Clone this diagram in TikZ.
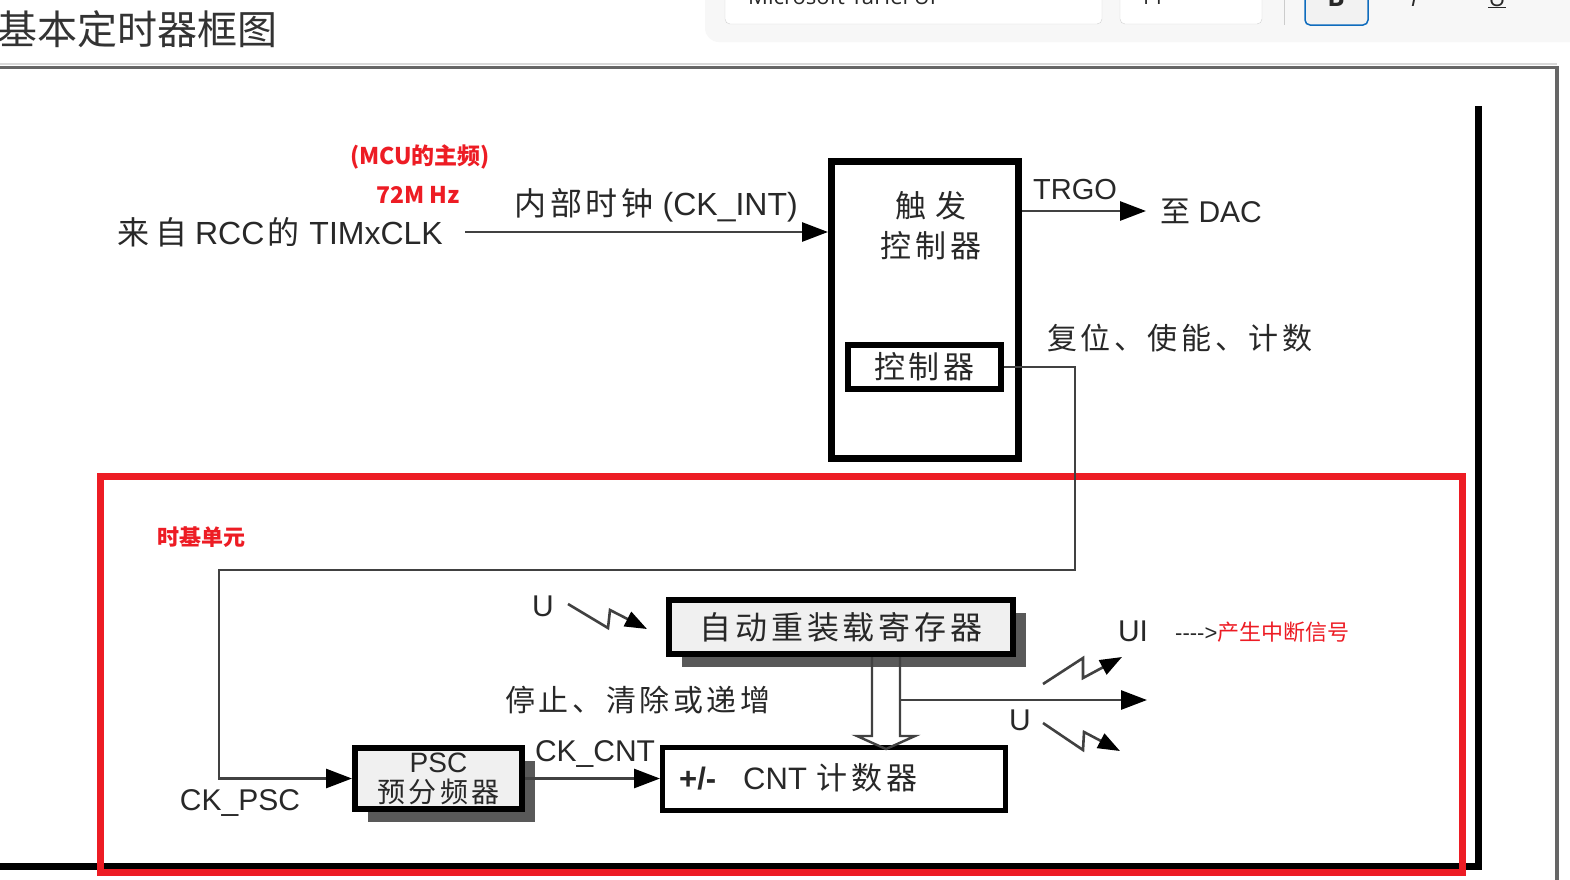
\documentclass[tikz,border=0pt]{standalone}
\usepackage{fontspec}
\setmainfont{Liberation Sans}
\newfontfamily\cjk{Noto Sans CJK SC}
\newfontfamily\cjksp[LetterSpace=12]{Noto Sans CJK SC}
\newfontfamily\uifont{Open Sans}
\usetikzlibrary{arrows.meta,shadows,positioning}
\definecolor{markred}{RGB}{237,28,36}
\definecolor{inkgray}{RGB}{40,40,40}
\definecolor{linegray}{RGB}{65,65,65}
\definecolor{uiblue}{RGB}{15,108,189}
\newcommand{\zh}[1]{{\cjk #1}}
\newcommand{\zhs}[1]{{\cjksp #1}}

\begin{document}
\begin{tikzpicture}[x=1pt,y=-1pt,
	lbl/.style={inner sep=0pt, text=inkgray, font=\fontsize{30}{38}\selectfont},
	redlbl/.style={inner sep=0pt, text=markred, font=\fontsize{22}{26}\selectfont\cjk\bfseries},
	uitxt/.style={inner sep=0pt, text=inkgray, font=\uifont\fontsize{22}{24}\selectfont},
	blockbox/.style={draw=black, line width=6pt, inner sep=0pt, fill=white, text=inkgray},
	regbox/.style={blockbox, fill=black!6, drop shadow={shadow xshift=13pt, shadow yshift=-13pt, fill=black!65, opacity=1}},
	sig/.style={draw=linegray, line width=2.8pt},
	sigarrow/.style={sig, -{Triangle[length=26pt,width=19pt,color=black]}},
	bolt/.style={sig, line width=2.6pt, -{Triangle[length=22pt,width=16pt,color=black]}}]

	\useasboundingbox (0,0) rectangle (1570,879);
	\clip (0,0) rectangle (1570,879);
	\fill[white] (0,0) rectangle (1570,879);

	% editor toolbar and page frame
	\fill[black!3, rounded corners=14pt] (705,-30) rectangle (1600,42);
	\draw[black!18, fill=white, rounded corners=5pt] (725,-20) rectangle (1102,24);
	\draw[black!18, fill=white, rounded corners=5pt] (1120,-20) rectangle (1262,24);
	\draw[black!20, line width=1pt] (1284,-5) -- (1284,25);
	\draw[uiblue, fill=black!5, line width=1.5pt, rounded corners=5pt] (1305,-20) rectangle (1368,25);
	\node[uitxt, anchor=base west] (fontname) at (748,4) {Microsoft YaHei UI};
	\node[uitxt, anchor=base] (fontsize) at (1152,4) {11};
	\node[uitxt, anchor=base, font=\uifont\bfseries\fontsize{26}{28}\selectfont] (boldbtn) at (1336,6) {B};
	\node[uitxt, anchor=base, font=\uifont\itshape\fontsize{24}{26}\selectfont] (italbtn) at (1414,6) {I};
	\node[uitxt, anchor=base, font=\uifont\fontsize{24}{26}\selectfont] (ulbtn) at (1497,6) {\underline{U}};

	\node[anchor=west, inner sep=0pt, font=\fontsize{40}{42}\selectfont\cjk, text=black!80] (title) at (-3,29) {基本定时器框图};

	\draw[black!15, line width=2pt] (0,63.5) -- (1557,63.5);
	\draw[black!60, line width=3.5pt] (0,67.5) -- (1557,67.5) -- (1557,885);
	\draw[black, line width=7pt] (1478,106) -- (1478,866) -- (-5,866);
	\draw[markred, line width=7pt] (100.5,476.5) rectangle (1462,872.5);

	% trigger controller
	\node[redlbl, font=\fontsize{23}{26}\selectfont\cjk\bfseries] (mcu) at (420,157) {(MCU的主频)};
	\node[redlbl, font=\fontsize{23}{26}\selectfont\cjk\bfseries] (freq) at (418,195) {72M Hz};
	\node[lbl, anchor=east, font=\fontsize{32}{38}\selectfont] (clksrc) at (443,232) {\zh{来}\hspace{6pt}\zh{自}\hspace{8pt}RCC\hspace{3pt}\zh{的}\hspace{10pt}TIMxCLK};
	\node[lbl, font=\fontsize{32}{38}\selectfont] (ckint) at (656,205) {\zhs{内部时钟} (CK\_INT)};
	\node[blockbox, line width=7pt, minimum width=187pt, minimum height=297pt] (trig) at (925,310) {};
	\node[lbl, align=center, font=\fontsize{31}{40}\selectfont\cjksp] (trigtxt) at (931,226) {触\hspace{10pt}发\\控制器};
	\node[blockbox, minimum width=153pt, minimum height=44pt, font=\fontsize{31}{36}\selectfont\cjksp] (ctrl) at (924.5,367) {控制器};
	\node[lbl, anchor=west] (dac) at (1160,211) {\zh{至} DAC};
	\node[lbl, font=\fontsize{29}{30}\selectfont] (trgo) at (1075,190) {TRGO};
	\node[lbl, anchor=west] (rst) at (1047,338) {\zhs{复位、使能、计数}};

	\coordinate[right=22pt of clksrc.east] (clkstart);
	\draw[sigarrow] (clkstart) -- (clkstart -| trig.west);
	\draw[sigarrow, shorten >=14pt] (trig.east |- dac.west) -- (dac.west);

	% time base unit
	\node[redlbl, anchor=west] (tbunit) at (157,537) {时基单元};
	\node[regbox, minimum width=344pt, minimum height=54pt, font=\fontsize{32}{34}\selectfont\cjksp] (reload) at (841,627) {自动重装载寄存器};
	\node[regbox, minimum width=167pt, minimum height=61pt, align=center, font=\fontsize{28}{30}\selectfont] (psc) at (438.5,778.5) {PSC\\\zhs{预分频器}};
	\node[blockbox, line width=5pt, minimum width=343pt, minimum height=63pt] (cnt) at (834,779) {};
	\node[lbl, anchor=west, font=\fontsize{31}{36}\selectfont] (cnttxt) at (679,778) {\textbf{+/-}\hspace{27pt}CNT\hspace{10pt}\zhs{计数器}};
	\node[lbl] (ckpsc) at (240,803) {CK\_PSC};
	\node[lbl] (ckcnt) at (595,754) {CK\_CNT};
	\node[lbl] (uload) at (543,606) {U};
	\node[lbl] (stop) at (638,700) {\zhs{停止、清除或递增}};
	\node[lbl] (uiflag) at (1133,631) {UI};
	\node[lbl] (uupd) at (1020,720) {U};
	\node[anchor=west, inner sep=0pt, font=\fontsize{22}{24}\selectfont, text=inkgray] (irq) at (1175,632) {-\kern0pt-\kern0pt-\kern0pt-\kern0pt>\textcolor{markred}{\zh{产生中断信号}}};

	\coordinate (fbtop) at (1075,570);
	\coordinate (fbleft) at (219,570);
	\draw[sigarrow] (ctrl.east) -| (fbtop) -- (fbleft) |- (psc.west);
	\draw[sigarrow] (psc.east) -- (psc.east -| cnt.west);

	\draw[sig, line width=2.4pt] ([xshift=31pt]reload.south) -- ++(0,79) -- ++(-15,0) -- ++(29,13) -- ++(29,-13) -- ++(-15,0) -- ++(0,-79);
	\coordinate (ubr) at (900,700);
	\coordinate (uout) at (1147,700);
	\draw[sigarrow] (ubr) -- (uout);

	\coordinate (bolt1) at (568,604);
	\coordinate (bolt2) at (1043,684);
	\coordinate (bolt3) at (1043,723);
	\draw[bolt] (bolt1) -- ++(40,24) -- ++(2,-18) -- ++(37,19);
	\draw[bolt] (bolt2) -- ++(40,-26) -- ++(0,20) -- ++(39,-21);
	\draw[bolt] (bolt3) -- ++(40,27) -- ++(1,-18) -- ++(36,19);

\end{tikzpicture}
\end{document}
